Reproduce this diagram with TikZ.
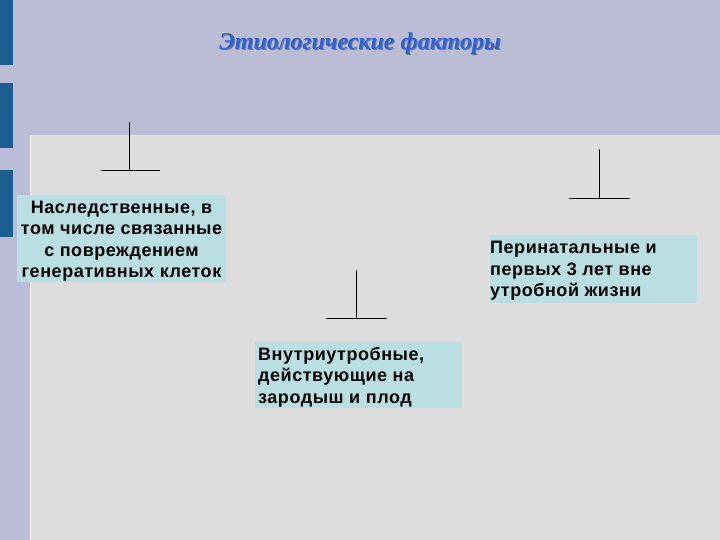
\documentclass[tikz,border=0pt]{standalone}
\usepackage{fontspec}
\setmainfont{Liberation Serif}
\newfontfamily\boxfont[LetterSpace=3]{Liberation Sans}
\definecolor{lav}{HTML}{BBBDD6}
\definecolor{grayarea}{HTML}{DDDDDD}
\definecolor{boxfill}{HTML}{B9DFE2}
\definecolor{barblue}{HTML}{1A5F8F}
\definecolor{titleblue}{HTML}{2A62DA}
\tikzset{
  factor/.style={inner sep=0pt, font=\boxfont\bfseries\fontsize{18}{21.5}\selectfont, text=black},
  tline/.style={line width=0.9pt, black},
  titletext/.style={font=\bfseries\itshape\fontsize{24}{28}\selectfont},
}
\begin{document}
\begin{tikzpicture}[x=1pt,y=-1pt]
\useasboundingbox (0,0) rectangle (720,540);
\fill[lav] (0,0) rectangle (720,540);
\fill[grayarea] (30,135) rectangle (720,540);
\draw[white!70!grayarea, line width=1.2pt] (30.6,135) -- (30.6,540);
% left bars
\fill[barblue] (0,0) rectangle (13,65);
\fill[barblue] (0,83) rectangle (13,148);
\fill[barblue] (0,170) rectangle (13,237);
% title
\node[titletext, text=black!35!lav] at (361,45) {Этиологические факторы};
\node[titletext, text=titleblue] (title) at (360,44) {Этиологические факторы};
% boxes
\fill[boxfill] (17,195) rectangle (226,282);
\node[factor, align=center] (her) at (121.5,241) {Наследственные, в\\том числе связанные\\с повреждением\\генеративных клеток};
\fill[boxfill] (255,342) rectangle (462,408);
\node[factor, anchor=north west, align=left] (intra) at (258,347) {Внутриутробные,\\действующие на\\зародыш и плод};
\fill[boxfill] (490,235) rectangle (697,303);
\node[factor, anchor=north west, align=left] (peri) at (490,241) {Перинатальные и\\первых 3 лет вне\\утробной жизни};
% T connectors
\coordinate (t1top) at (129.5,122); \coordinate (t1bot) at (129.5,170);
\coordinate (t1l) at (101,170); \coordinate (t1r) at (160,170);
\draw[tline] (t1top) -- (t1bot); \draw[tline] (t1l) -- (t1r);
\coordinate (t2top) at (356,270); \coordinate (t2bot) at (356,318);
\coordinate (t2l) at (326,318); \coordinate (t2r) at (387,318);
\draw[tline] (t2top) -- (t2bot); \draw[tline] (t2l) -- (t2r);
\coordinate (t3top) at (599,149); \coordinate (t3bot) at (599,198);
\coordinate (t3l) at (569,198); \coordinate (t3r) at (630,198);
\draw[tline] (t3top) -- (t3bot); \draw[tline] (t3l) -- (t3r);
\end{tikzpicture}
\end{document}
